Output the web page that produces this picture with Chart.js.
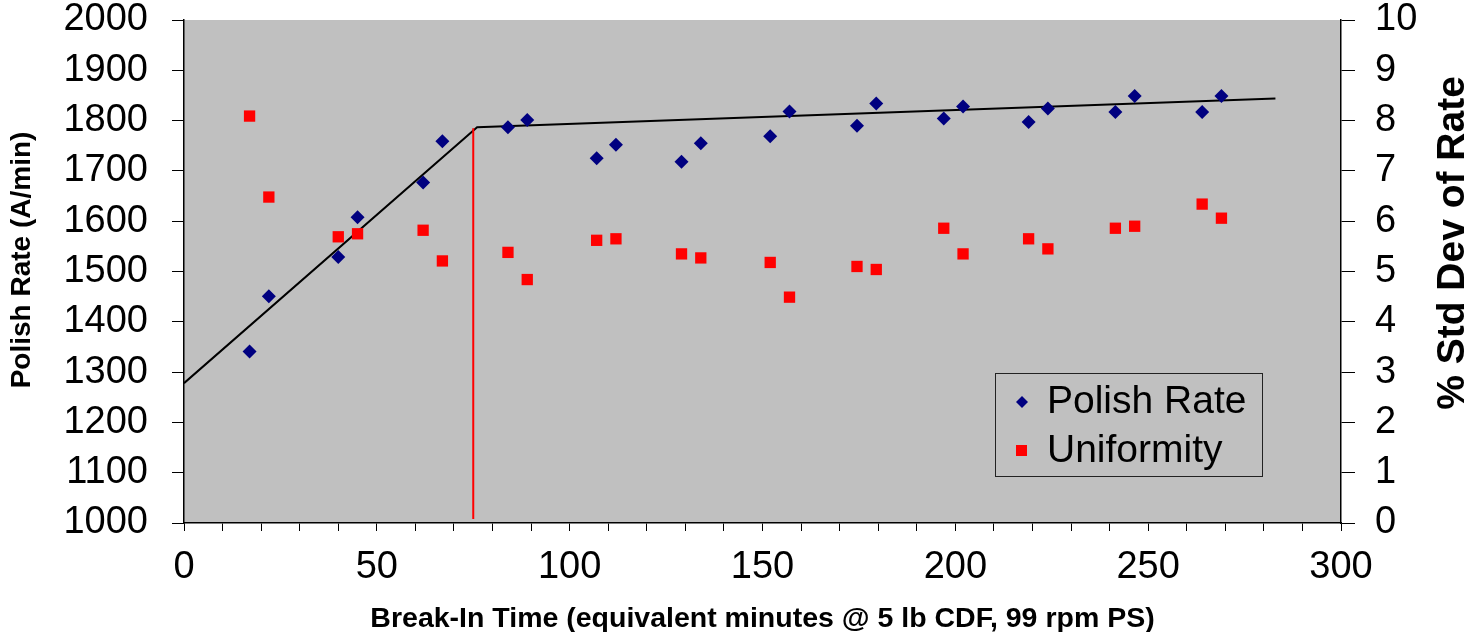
<!DOCTYPE html>
<html>
<head>
<meta charset="utf-8">
<script src="https://cdn.jsdelivr.net/npm/chart.js@4"></script>
<style>
  body { margin: 0; background: #fff; }
  #wrap { width: 1474px; height: 632px; }
</style>
</head>
<body>
<div id="wrap"><canvas id="rateChart"></canvas></div>
<script>
const breakInTime = [17, 22, 40, 45, 62, 67, 84, 89, 107, 112, 129, 134, 152, 157, 174.5, 179.5, 197, 202, 219, 224, 241.5, 246.5, 264, 269];
const polishRate = [1341, 1451, 1529, 1608, 1677, 1759, 1787, 1801, 1725, 1752, 1718, 1755, 1769, 1818, 1790, 1834, 1804, 1828, 1797, 1824, 1817, 1849, 1817, 1849];
const uniformity = [8.09, 6.48, 5.69, 5.75, 5.82, 5.21, 5.38, 4.84, 5.62, 5.65, 5.35, 5.27, 5.18, 4.49, 5.10, 5.04, 5.86, 5.35, 5.65, 5.45, 5.86, 5.90, 6.34, 6.06];

// two-segment fit: break-in ramp, then plateau
const fitX = [0, 76, 283];
const fitY = [1278, 1787, 1844];
// marker for end of break-in
const breakX = [75, 75];
const breakY = [1785, 1008];

const FONT = '"Liberation Sans", Arial, sans-serif';

function toPoints(xs, ys) {
    return xs.map((x, i) => ({ x: x, y: ys[i] }));
}

// side axes: fixed width, and keep the label padding from pushing the plot down
function fixSide(width) {
    return scale => {
        scale.width = width;
        scale.paddingTop = 20;
        scale.paddingBottom = 0;
    };
}

const plotBackground = {
    id: 'plotBackground',
    beforeDraw(chart) {
        const { ctx, chartArea: a } = chart;
        ctx.save();
        ctx.fillStyle = '#C0C0C0';
        ctx.fillRect(a.left, a.top, a.right - a.left, a.bottom - a.top);
        ctx.restore();
    }
};

// rotated side titles, drawn by hand so they can sit off-centre
const sideTitles = {
    id: 'sideTitles',
    afterDraw(chart) {
        const ctx = chart.ctx;
        ctx.save();
        ctx.fillStyle = '#000';
        ctx.textAlign = 'center';
        ctx.textBaseline = 'middle';
        ctx.translate(22, 260);
        ctx.rotate(-Math.PI / 2);
        ctx.font = 'bold 28px ' + FONT;
        ctx.fillText('Polish Rate (A/min)', 0, 0);
        ctx.restore();

        ctx.save();
        ctx.fillStyle = '#000';
        ctx.textAlign = 'center';
        ctx.textBaseline = 'middle';
        ctx.translate(1453, 243);
        ctx.rotate(-Math.PI / 2);
        ctx.font = 'bold 39px ' + FONT;
        ctx.fillText('% Std Dev of Rate', 0, 0);
        ctx.restore();
    }
};

// boxed legend sitting inside the plot
const boxLegend = {
    id: 'boxLegend',
    afterDraw(chart) {
        const ctx = chart.ctx;
        ctx.save();
        ctx.strokeStyle = '#222';
        ctx.lineWidth = 1;
        ctx.strokeRect(995.5, 373.5, 267, 103);
        ctx.font = '39px ' + FONT;
        ctx.fillStyle = '#000';
        ctx.textBaseline = 'middle';
        ctx.fillText('Polish Rate', 1047, 402);
        ctx.fillText('Uniformity', 1047, 451);
        ctx.fillStyle = '#000080';
        ctx.beginPath();
        ctx.moveTo(1016, 402);
        ctx.lineTo(1022, 396);
        ctx.lineTo(1028, 402);
        ctx.lineTo(1022, 408);
        ctx.closePath();
        ctx.fill();
        ctx.fillStyle = '#FF0000';
        ctx.fillRect(1016, 445, 11, 11);
        ctx.restore();
    }
};

function createChart() {
    const ctx = document.getElementById('rateChart').getContext('2d');
    new Chart(ctx, {
        type: 'scatter',
        data: {
            datasets: [
                {
                    label: 'Polish Rate',
                    data: toPoints(breakInTime, polishRate),
                    yAxisID: 'y',
                    pointStyle: 'rectRot',
                    pointRadius: 7,
                    pointHoverRadius: 7,
                    backgroundColor: '#000080',
                    borderColor: '#000080',
                    borderWidth: 0,
                    order: 1
                },
                {
                    label: 'Uniformity',
                    data: toPoints(breakInTime, uniformity),
                    yAxisID: 'y1',
                    pointStyle: 'rect',
                    pointRadius: 8,
                    pointHoverRadius: 8,
                    backgroundColor: '#FF0000',
                    borderColor: '#FF0000',
                    borderWidth: 0,
                    order: 1
                },
                {
                    label: 'fit',
                    data: toPoints(fitX, fitY),
                    yAxisID: 'y',
                    showLine: true,
                    pointRadius: 0,
                    borderColor: '#000',
                    borderWidth: 2,
                    order: 3
                },
                {
                    label: 'break',
                    data: toPoints(breakX, breakY),
                    yAxisID: 'y',
                    showLine: true,
                    pointRadius: 0,
                    borderColor: '#FF0000',
                    borderWidth: 2,
                    order: 2
                }
            ]
        },
        options: {
            responsive: true,
            maintainAspectRatio: false,
            animation: false,
            layout: { padding: 0 },
            plugins: {
                legend: { display: false },
                tooltip: { enabled: false }
            },
            scales: {
                x: {
                    type: 'linear',
                    min: 0,
                    max: 300,
                    afterFit(scale) { scale.height = 109; },
                    border: { color: '#000', width: 1.5 },
                    grid: { drawOnChartArea: false, tickLength: 8, color: '#000' },
                    ticks: {
                        stepSize: 10,
                        autoSkip: false,
                        maxRotation: 0,
                        padding: 18,
                        color: '#000',
                        font: { family: FONT, size: 38, lineHeight: 1 },
                        callback: v => (v % 50 === 0 ? String(v) : '')
                    },
                    title: {
                        display: true,
                        text: 'Break-In Time (equivalent minutes @ 5 lb CDF, 99 rpm PS)',
                        color: '#000',
                        font: { family: FONT, size: 28.5, weight: 'bold' },
                        padding: { top: -4, bottom: -4 }
                    }
                },
                y: {
                    position: 'left',
                    min: 1000,
                    max: 2000,
                    afterFit: fixSide(184),
                    border: { color: '#000', width: 1.5 },
                    grid: { drawOnChartArea: false, tickLength: 12, color: '#000' },
                    ticks: {
                        stepSize: 100,
                        padding: 24,
                        color: '#000',
                        font: { family: FONT, size: 38, lineHeight: 1 },
                        callback: v => String(v)
                    }
                },
                y1: {
                    position: 'right',
                    min: 0,
                    max: 10,
                    afterFit: fixSide(133),
                    border: { color: '#000', width: 1.5 },
                    grid: { drawOnChartArea: false, tickLength: 14, color: '#000' },
                    ticks: {
                        stepSize: 1,
                        padding: 20,
                        color: '#000',
                        font: { family: FONT, size: 38, lineHeight: 1 },
                        callback: v => String(v)
                    }
                }
            }
        },
        plugins: [plotBackground, sideTitles, boxLegend]
    });
}

window.onload = createChart;
</script>
</body>
</html>
